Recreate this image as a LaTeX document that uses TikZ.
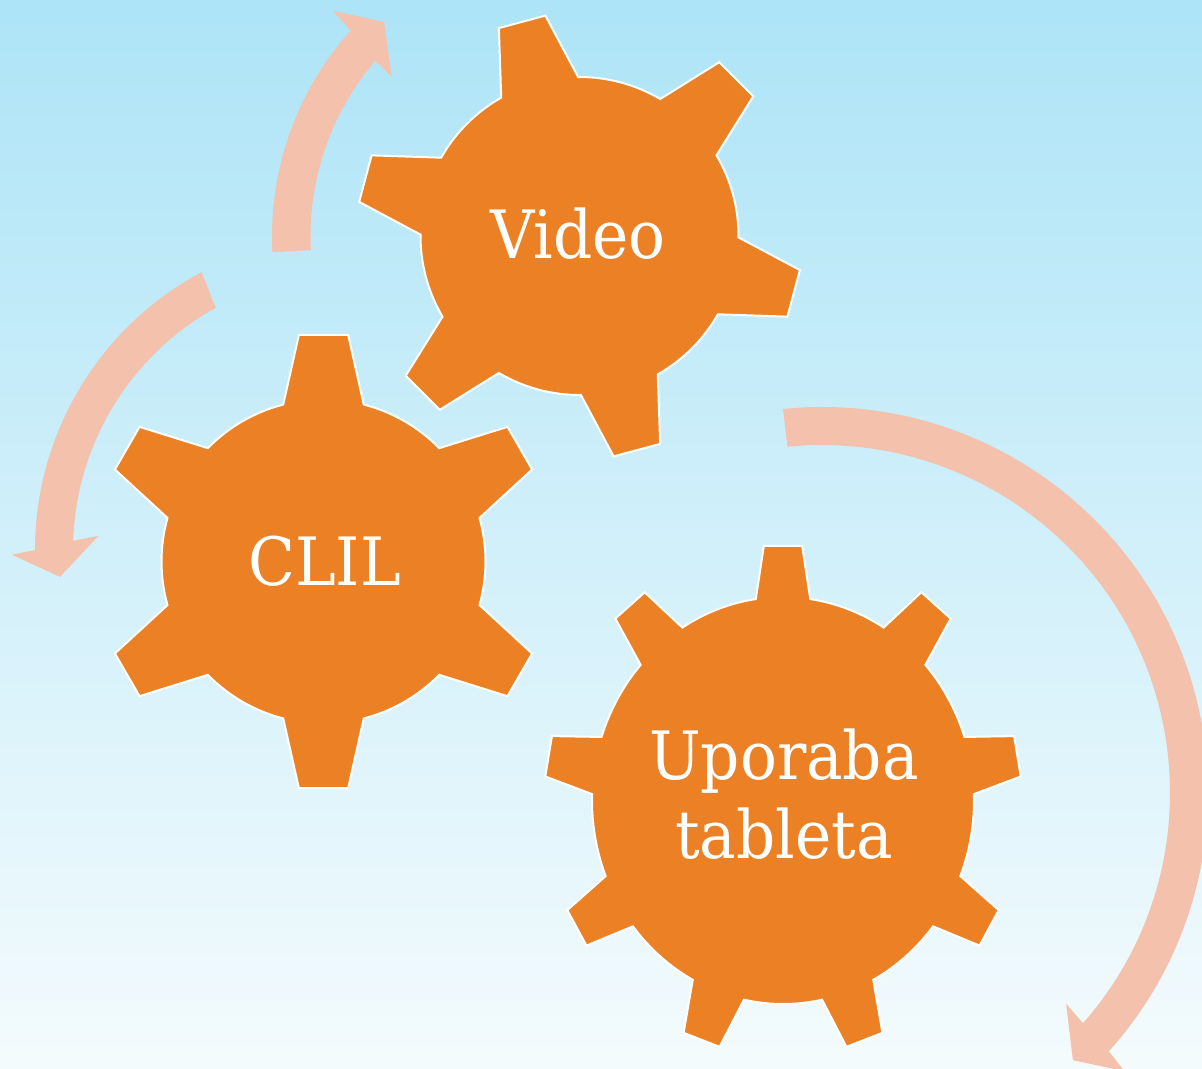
\documentclass[tikz,border=0pt]{standalone}
\usepackage{fontspec}
\newfontfamily\gearfont[FakeStretch=0.92]{DejaVu Serif}
\definecolor{gearorange}{RGB}{235,128,37}
\definecolor{arrowpink}{RGB}{243,193,172}
\definecolor{skytop}{RGB}{173,228,247}
\definecolor{skybottom}{RGB}{244,251,253}
\tikzset{every picture/.style={line width=0.75pt}}

\begin{document}
\begin{tikzpicture}[x=0.75pt,y=0.75pt,yscale=-1,xscale=1,
  gearshape/.style={draw=white,fill=gearorange,line width=1.5,line join=miter},
  arrowshape/.style={fill=arrowpink,draw=none},
  gearlabel/.style={text=white,font=\gearfont\fontsize{50}{59}\selectfont,align=center}]
\useasboundingbox (0,0) rectangle (1202,1069);
\clip (0,0) rectangle (1202,1069);

%Background
\shade [top color=skytop,bottom color=skybottom] (0,0) rectangle (1202,1069);

%Circular Arrow [Video]
\path [arrowshape,shift={(579.5,236)}] (-183:307.5) arc[start angle=-183,end angle=-138.1,radius=307.5] -- (-137.6:334) -- (-132.4:289.7) -- (-139.7:246.3) -- (-139.3:269) arc[start angle=-139.3,end angle=-183,radius=269] -- cycle ;
%Circular Arrow [CLIL]
\path [arrowshape,shift={(350,550)}] (-118.1:315) arc[start angle=-118.1,end angle=-180,radius=315] -- (-180.8:338.3) -- (-185.3:291.2) -- (-176.8:252.1) -- (-178.1:277) arc[start angle=-178.1,end angle=-119,radius=277] -- cycle ;
%Circular Arrow [Uporaba tableta]
\path [arrowshape,shift={(822,793)}] (-95.8:386) arc[start angle=-95.8,end angle=42,radius=386] -- (42.6:411) -- (46.8:366.5) -- (40.8:322.6) -- (41.4:348) arc[start angle=41.4,end angle=-95.7,radius=348] -- cycle ;

%Shape: Gear [Video]
\draw [gearshape,shift={(579.5,236)}] (0.5:159) -- (8.8:223) -- (21.2:223) -- (29.5:159) arc[start angle=29.5,end angle=60.5,radius=159]
 -- (68.8:223) -- (81.2:223) -- (89.5:159) arc[start angle=89.5,end angle=120.5,radius=159]
 -- (128.8:223) -- (141.2:223) -- (149.5:159) arc[start angle=149.5,end angle=180.5,radius=159]
 -- (188.8:223) -- (201.2:223) -- (209.5:159) arc[start angle=209.5,end angle=240.5,radius=159]
 -- (248.8:223) -- (261.2:223) -- (269.5:159) arc[start angle=269.5,end angle=300.5,radius=159]
 -- (308.8:223) -- (321.2:223) -- (329.5:159) arc[start angle=329.5,end angle=360.5,radius=159] -- cycle ;
%Shape: Gear [CLIL]
\draw [gearshape,shift={(323.5,561.5)}] (15.6:162) -- (23.8:228) -- (36.2:228) -- (44.4:162) arc[start angle=44.4,end angle=75.6,radius=162]
 -- (83.8:228) -- (96.2:228) -- (104.4:162) arc[start angle=104.4,end angle=135.6,radius=162]
 -- (143.8:228) -- (156.2:228) -- (164.4:162) arc[start angle=164.4,end angle=195.6,radius=162]
 -- (203.8:228) -- (216.2:228) -- (224.4:162) arc[start angle=224.4,end angle=255.6,radius=162]
 -- (263.8:228) -- (276.2:228) -- (284.4:162) arc[start angle=284.4,end angle=315.6,radius=162]
 -- (323.8:228) -- (336.2:228) -- (344.4:162) arc[start angle=344.4,end angle=375.6,radius=162] -- cycle ;
%Shape: Gear [Uporaba tableta]
\draw [gearshape,shift={(783,800.5)}] (21.8:191 and 203.5) -- (25.4:238.8 and 255.5) -- (34.6:238.8 and 255.5) -- (38.2:191 and 203.5) arc[start angle=38.2,end angle=61.8,x radius=191,y radius=203.5]
 -- (65.4:238.8 and 255.5) -- (74.6:238.8 and 255.5) -- (78.2:191 and 203.5) arc[start angle=78.2,end angle=101.8,x radius=191,y radius=203.5]
 -- (105.4:238.8 and 255.5) -- (114.6:238.8 and 255.5) -- (118.2:191 and 203.5) arc[start angle=118.2,end angle=141.8,x radius=191,y radius=203.5]
 -- (145.4:238.8 and 255.5) -- (154.6:238.8 and 255.5) -- (158.2:191 and 203.5) arc[start angle=158.2,end angle=181.8,x radius=191,y radius=203.5]
 -- (185.4:238.8 and 255.5) -- (194.6:238.8 and 255.5) -- (198.2:191 and 203.5) arc[start angle=198.2,end angle=221.8,x radius=191,y radius=203.5]
 -- (225.4:238.8 and 255.5) -- (234.6:238.8 and 255.5) -- (238.2:191 and 203.5) arc[start angle=238.2,end angle=261.8,x radius=191,y radius=203.5]
 -- (265.4:238.8 and 255.5) -- (274.6:238.8 and 255.5) -- (278.2:191 and 203.5) arc[start angle=278.2,end angle=301.8,x radius=191,y radius=203.5]
 -- (305.4:238.8 and 255.5) -- (314.6:238.8 and 255.5) -- (318.2:191 and 203.5) arc[start angle=318.2,end angle=341.8,x radius=191,y radius=203.5]
 -- (345.4:238.8 and 255.5) -- (354.6:238.8 and 255.5) -- (358.2:191 and 203.5) arc[start angle=358.2,end angle=381.8,x radius=191,y radius=203.5] -- cycle ;

%Labels
\node [gearlabel,anchor=base] (video) at (578,259) {Video};
\node [gearlabel,anchor=base] (clil) at (324.5,585) {CLIL};
\node [gearlabel,anchor=base] (tablet) at (784,858) {Uporaba\\tableta};

\end{tikzpicture}
\end{document}
